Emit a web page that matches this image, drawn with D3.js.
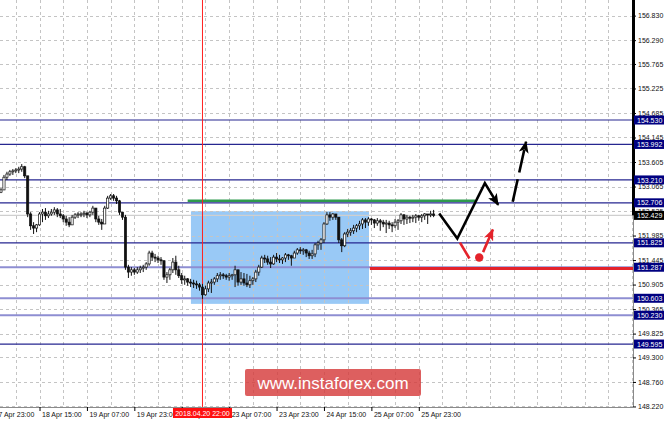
<!DOCTYPE html>
<html><head><meta charset="utf-8">
<script src="https://cdn.jsdelivr.net/npm/d3@7"></script>
<style>body{margin:0;background:#fff;}svg{display:block;font-family:"Liberation Sans",Arial,sans-serif;}</style>
</head><body><svg id="c" width="665" height="424"></svg>
<script>
// ---- data (USD/JPY? H1, prices) ----
const firstOpen = 152.94;
const highs = [153.03,153.32,153.39,153.43,153.45,153.47,153.50,153.56,153.52,153.30,
152.50,152.28,152.24,152.50,152.57,152.59,152.53,152.57,152.61,152.59,
152.57,152.46,152.42,152.39,152.44,152.48,152.50,152.50,152.53,152.50,
152.53,152.64,152.59,152.42,152.35,152.64,152.86,152.90,152.90,152.86,
152.77,152.50,152.44,151.34,151.29,151.27,151.29,151.32,151.34,151.40,
151.65,151.65,151.58,151.54,151.51,151.40,151.18,151.27,151.49,151.54,
151.32,151.16,151.10,151.05,151.03,151.01,150.99,150.94,150.92,150.88,
150.99,151.03,151.07,151.16,151.18,151.16,151.14,151.16,151.14,151.32,
151.23,151.18,151.16,151.14,151.10,151.07,151.23,151.34,151.54,151.56,
151.54,151.51,151.56,151.60,151.56,151.51,151.60,151.58,151.56,151.65,
151.71,151.73,151.71,151.69,151.65,151.67,151.82,151.87,151.93,152.28,
152.50,152.50,152.48,152.46,152.39,151.93,152.06,152.13,152.15,152.22,
152.24,152.31,152.37,152.37,152.39,152.37,152.35,152.37,152.35,152.33,
152.33,152.31,152.28,152.35,152.35,152.48,152.46,152.44,152.42,152.44,
152.46,152.44,152.46,152.48,152.46,152.53,152.55];
const lows = [152.92,153.10,153.21,153.30,153.32,153.36,153.36,153.39,153.25,152.39,
152.11,152.02,152.06,152.20,152.28,152.33,152.37,152.42,152.44,152.39,
152.37,152.28,152.20,152.17,152.24,152.35,152.37,152.39,152.39,152.37,
152.39,152.44,152.28,152.22,152.11,152.24,152.57,152.77,152.75,152.68,
152.44,152.33,151.23,151.05,151.10,151.12,151.14,151.16,151.18,151.23,
151.32,151.43,151.40,151.38,151.34,151.01,150.94,151.01,151.16,151.12,
151.05,150.92,150.90,150.88,150.85,150.83,150.81,150.77,150.59,150.66,
150.74,150.72,150.90,150.96,151.01,151.03,151.01,150.99,151.01,150.85,
150.88,150.90,150.88,150.85,150.83,150.90,150.96,151.10,151.27,151.38,
151.34,151.27,151.34,151.40,151.38,151.36,151.40,151.45,151.32,151.49,
151.56,151.58,151.56,151.51,151.47,151.47,151.51,151.67,151.67,151.82,
152.22,152.31,152.33,152.33,151.82,151.62,151.73,151.95,151.98,152.02,
152.06,152.11,152.13,152.15,152.20,152.22,152.15,152.20,152.09,152.17,
152.04,152.13,152.06,152.15,152.11,152.24,152.22,152.24,152.26,152.28,
152.26,152.31,152.28,152.33,152.24,152.39,152.39];
const closes = [152.99,153.27,153.34,153.39,153.41,153.43,153.45,153.50,153.30,152.46,
152.20,152.15,152.22,152.46,152.50,152.42,152.46,152.50,152.55,152.46,
152.42,152.35,152.28,152.22,152.39,152.44,152.46,152.46,152.48,152.44,
152.50,152.59,152.35,152.28,152.24,152.59,152.81,152.86,152.81,152.75,
152.50,152.39,151.29,151.18,151.23,151.18,151.23,151.27,151.29,151.36,
151.60,151.51,151.49,151.45,151.43,151.07,151.12,151.23,151.40,151.23,
151.10,151.01,151.03,150.96,150.94,150.92,150.90,150.85,150.68,150.81,
150.94,150.96,151.03,151.10,151.12,151.10,151.07,151.10,151.12,151.23,
150.96,151.03,150.94,150.90,150.99,151.03,151.18,151.29,151.49,151.47,
151.40,151.36,151.51,151.47,151.45,151.49,151.56,151.54,151.49,151.60,
151.67,151.65,151.67,151.60,151.54,151.58,151.78,151.82,151.89,152.24,
152.44,152.39,152.46,152.39,151.89,151.76,152.02,152.06,152.09,152.15,
152.20,152.24,152.33,152.28,152.35,152.33,152.26,152.31,152.28,152.24,
152.26,152.22,152.20,152.28,152.31,152.44,152.35,152.39,152.37,152.39,
152.42,152.39,152.42,152.46,152.44,152.46,152.43];

const priceTicks = [156.830,156.290,155.765,155.225,154.685,154.145,153.605,153.065,152.525,
151.985,151.445,150.905,150.365,149.825,149.300,148.760,148.220];
const timeTickBars = [-3,13,29,45,61,77,93,109,125,141];
const timeTickLabels = ["17 Apr 23:00","18 Apr 15:00","19 Apr 07:00","19 Apr 23:00","20 Apr 15:00",
"23 Apr 07:00","23 Apr 23:00","24 Apr 15:00","25 Apr 07:00","25 Apr 23:00"];
const levels = [154.530,153.992,153.210,152.706,151.825,151.287,150.603,150.230,149.595];
const lightLevels = [151.287,150.603,150.230];
const currentPrice = 152.429;
const markerBar = 68, markerLabel = "2018.04.20 22:00";
const zoneBars = [64.1,124.2], zonePrices = [152.52,150.48];
const greenBars = [63,160], greenPrice = 152.75;
const redStartBar = 124.5, redPrice = 151.26;
const mainPath = [[147.9,152.47],[154.0,151.92],[163.3,153.14],[167.8,152.66]];
const contPath = [[172.7,152.73],[177.2,154.05]];
const altDash = [[154.9,151.83],[158.1,151.48]];
const altDot = [161.4,151.50];
const altArrow = [[162.7,151.62],[166.0,152.12]];

// ---- chart ----
const plotR = 633, plotB = 407;
const svg = d3.select('#c');
const y = d3.scaleLinear().domain([148.208,157.174]).range([plotB,0]);
const x = d3.scaleLinear().domain([0,146]).range([1,1+2.963*146]);

const bars = closes.map((c,i)=>{
  const o = i===0?firstOpen:closes[i-1];
  return {i,o,c,h:Math.max(highs[i],o,c),l:Math.min(lows[i],o,c)};
});

svg.append('rect').attr('width',665).attr('height',424).attr('fill','#fff');

// zone
svg.append('rect').attr('x',x(zoneBars[0])).attr('y',y(zonePrices[0]))
  .attr('width',x(zoneBars[1])-x(zoneBars[0])).attr('height',y(zonePrices[1])-y(zonePrices[0]))
  .attr('fill','#99c9f6');

// grid
const grid = svg.append('g').attr('stroke','#c4c4c4').attr('stroke-dasharray','3,3').attr('stroke-width',1);
priceTicks.forEach(p=>grid.append('line').attr('x1',0).attr('x2',plotR)
  .attr('y1',Math.round(y(p))+0.5).attr('y2',Math.round(y(p))+0.5));
const gridBars = d3.range(-3,220,8).filter(k=>x(k)>0 && x(k)<plotR);
gridBars.forEach(k=>grid.append('line').attr('y1',0).attr('y2',plotB)
  .attr('x1',Math.round(x(k))+0.5).attr('x2',Math.round(x(k))+0.5));

// bid line
svg.append('line').attr('x1',0).attr('x2',plotR).attr('y1',y(currentPrice)).attr('y2',y(currentPrice))
  .attr('stroke','#cfcfcf').attr('stroke-width',1.2);

// levels
levels.forEach(p=>{
  const light = lightLevels.includes(p);
  svg.append('line').attr('x1',0).attr('x2',plotR).attr('y1',y(p)).attr('y2',y(p))
    .attr('stroke',light?'#8e8ed2':'#262690').attr('stroke-width',light?2:1.2);
});

// green & red lines
svg.append('line').attr('x1',x(greenBars[0])).attr('x2',x(greenBars[1]))
  .attr('y1',y(greenPrice)).attr('y2',y(greenPrice)).attr('stroke','#2f9a4e').attr('stroke-width',2.6);
svg.append('line').attr('x1',x(redStartBar)).attr('x2',plotR)
  .attr('y1',y(redPrice)).attr('y2',y(redPrice)).attr('stroke','#e4232b').attr('stroke-width',3);

// vertical marker
svg.append('line').attr('x1',x(markerBar)).attr('x2',x(markerBar)).attr('y1',0).attr('y2',plotB)
  .attr('stroke','#ff2020').attr('stroke-width',1);

// candles
const cg = svg.append('g');
cg.selectAll('line.w').data(bars).join('line')
  .attr('x1',d=>x(d.i)).attr('x2',d=>x(d.i)).attr('y1',d=>y(d.h)).attr('y2',d=>y(d.l))
  .attr('stroke','#111').attr('stroke-width',1);
cg.selectAll('rect.b').data(bars).join('rect')
  .attr('x',d=>x(d.i)-1.1).attr('width',2.2)
  .attr('y',d=>y(Math.max(d.o,d.c))).attr('height',d=>Math.max(1,Math.abs(y(d.o)-y(d.c))))
  .attr('fill',d=>d.c>=d.o?'#fff':'#111').attr('stroke','#111').attr('stroke-width',0.7);

// arrows
const defs = svg.append('defs');
function marker(id,color){
  defs.append('marker').attr('id',id).attr('viewBox','0 0 12 10').attr('refX',11).attr('refY',5)
    .attr('markerUnits','userSpaceOnUse').attr('markerWidth',12).attr('markerHeight',10).attr('orient','auto')
    .append('path').attr('d','M0,0 L12,5 L0,10 L3,5 z').attr('fill',color);
}
marker('ab','#000'); marker('ar','#e4232b');
const line = d3.line().x(d=>x(d[0])).y(d=>y(d[1]));
svg.append('path').attr('d',line(mainPath)).attr('fill','none').attr('stroke','#000')
  .attr('stroke-width',2.6).attr('stroke-linejoin','miter').attr('marker-end','url(#ab)');
svg.append('path').attr('d',line(contPath)).attr('fill','none').attr('stroke','#000')
  .attr('stroke-width',2.6).attr('stroke-dasharray','23,7').attr('marker-end','url(#ab)');
svg.append('path').attr('d',line(altDash)).attr('fill','none').attr('stroke','#e4232b').attr('stroke-width',2.6);
svg.append('circle').attr('cx',x(altDot[0])).attr('cy',y(altDot[1])).attr('r',4.2).attr('fill','#e4232b');
svg.append('path').attr('d',line(altArrow)).attr('fill','none').attr('stroke','#e4232b')
  .attr('stroke-width',2.6).attr('marker-end','url(#ar)');

// borders
svg.append('line').attr('x1',0).attr('x2',plotR).attr('y1',plotB+0.5).attr('y2',plotB+0.5).attr('stroke','#8a8a8a');
svg.append('line').attr('x1',plotR+0.5).attr('x2',plotR+0.5).attr('y1',0).attr('y2',plotB).attr('stroke','#8a8a8a');
svg.append('line').attr('x1',plotR+0.5).attr('x2',plotR+0.5).attr('y1',0).attr('y2',y(currentPrice)).attr('stroke','#000').attr('stroke-width',3);

// right axis
const ya = svg.append('g').attr('transform',`translate(${plotR},0)`)
  .call(d3.axisRight(y).tickValues(priceTicks).tickSize(3).tickPadding(2).tickFormat(d3.format('.3f')));
ya.select('.domain').remove();
ya.selectAll('text').attr('font-size',7).attr('font-family','"Liberation Sans",Arial,sans-serif').attr('fill','#111');

// bottom axis
const xa = svg.append('g').attr('transform',`translate(0,${plotB})`)
  .call(d3.axisBottom(x).tickValues(timeTickBars).tickSize(4).tickFormat((d,i)=>timeTickLabels[i]));
xa.select('.domain').remove();
xa.selectAll('text').attr('font-size',7).attr('font-family','"Liberation Sans",Arial,sans-serif')
  .attr('fill','#111').attr('text-anchor','start').attr('dx',2).attr('dy','0.45em');

// level labels
levels.forEach(p=>{
  const g = svg.append('g').attr('transform',`translate(${plotR+1},${y(p)})`);
  g.append('rect').attr('x',0).attr('y',-4.5).attr('width',30).attr('height',9).attr('fill','#000080');
  g.append('text').attr('x',3).attr('y',2.6).attr('font-size',7).attr('fill','#fff').text(d3.format('.3f')(p));
});
{
  const g = svg.append('g').attr('transform',`translate(${plotR+1},${y(currentPrice)})`);
  g.append('rect').attr('x',0).attr('y',-4.5).attr('width',30).attr('height',9).attr('fill','#000');
  g.append('text').attr('x',3).attr('y',2.6).attr('font-size',7).attr('fill','#fff').text(d3.format('.3f')(currentPrice));
}
// marker time label
{
  const mx = x(markerBar);
  svg.append('rect').attr('x',mx-29.5).attr('y',plotB+1).attr('width',59).attr('height',10).attr('fill','#ff1010');
  svg.append('text').attr('x',mx).attr('y',plotB+8.8).attr('text-anchor','middle').attr('font-size',7)
    .attr('fill','#fff').text(markerLabel);
}

// watermark
svg.append('rect').attr('x',245).attr('y',369).attr('width',176).attr('height',27).attr('rx',2)
  .attr('fill','#d63c3c').attr('opacity',0.82);
svg.append('text').attr('x',333).attr('y',389).attr('text-anchor','middle').attr('font-size',17)
  .attr('fill','#fff').text('www.instaforex.com');
</script></body></html>
